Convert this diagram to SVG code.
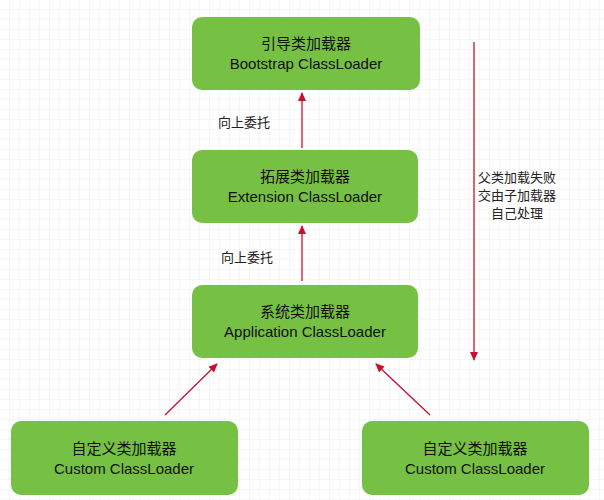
<svg xmlns="http://www.w3.org/2000/svg" width="604" height="500" viewBox="0 0 604 500">
<defs>
<pattern id="g" width="10" height="10" patternUnits="userSpaceOnUse"><path d="M10 0V10H0" fill="none" stroke="#ececec" stroke-width="1"/></pattern>
<marker id="a" markerWidth="10" markerHeight="10" refX="8" refY="5" orient="auto" markerUnits="userSpaceOnUse"><path d="M0 1L9 5L0 9Z" fill="#c8102e"/></marker>
<style>
.n{fill:#76c043}
.t{font-family:"Liberation Sans","Noto Sans CJK SC",sans-serif;font-size:15px;fill:#111;text-anchor:middle}
.l{font-family:"Noto Sans CJK SC",sans-serif;font-size:13px;fill:#222}
.c{stroke:#c8102e;stroke-width:1.3;fill:none;marker-end:url(#a)}
</style>
</defs>
<rect width="604" height="500" fill="#fff"/>
<rect width="604" height="500" fill="url(#g)"/>
<g id="bootstrap"><rect class="n" x="192" y="17" width="228" height="73" rx="10"/><text class="t" x="306" y="49">引导类加载器</text><text class="t" x="306" y="69">Bootstrap ClassLoader</text></g>
<g id="extension"><rect class="n" x="192" y="150" width="226" height="73" rx="10"/><text class="t" x="305" y="182">拓展类加载器</text><text class="t" x="305" y="202">Extension ClassLoader</text></g>
<g id="application"><rect class="n" x="192" y="285" width="226" height="73" rx="10"/><text class="t" x="305" y="317">系统类加载器</text><text class="t" x="305" y="337">Application ClassLoader</text></g>
<g id="custom1"><rect class="n" x="11" y="421" width="227" height="74" rx="10"/><text class="t" x="124" y="454">自定义类加载器</text><text class="t" x="124" y="474">Custom ClassLoader</text></g>
<g id="custom2"><rect class="n" x="362" y="421" width="227" height="74" rx="10"/><text class="t" x="475" y="454">自定义类加载器</text><text class="t" x="475" y="474">Custom ClassLoader</text></g>
<g id="connectors">
<line class="c" x1="302" y1="148" x2="302" y2="93"/>
<line class="c" x1="302" y1="281" x2="302" y2="226"/>
<line class="c" x1="165" y1="415" x2="217" y2="364"/>
<line class="c" x1="430" y1="415" x2="376" y2="364"/>
<line class="c" x1="474" y1="42" x2="474" y2="360"/>
<text class="l" x="218" y="127" font-size="14">向上委托</text>
<text class="l" x="221" y="262" font-size="14">向上委托</text>
<text class="l" x="517" y="182" text-anchor="middle">父类加载失败</text>
<text class="l" x="517" y="200" text-anchor="middle">交由子加载器</text>
<text class="l" x="517" y="218" text-anchor="middle">自己处理</text>
</g>
</svg>
